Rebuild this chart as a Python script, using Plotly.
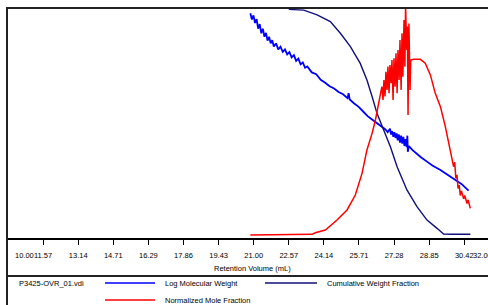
import plotly.graph_objects as go

# ---- data (retention volume in mL, detector responses in % of full scale) ----
tick_vals = [11.571, 13.143, 14.714, 16.286, 17.857, 19.429, 21.0, 22.571,
             24.143, 25.714, 27.286, 28.857, 30.429]
tick_text = ["11.57", "13.14", "14.71", "16.29", "17.86", "19.43", "21.00", "22.57",
             "24.14", "25.71", "27.28", "28.85", "30.42"]

logmw_x = [20.85, 20.92, 20.99, 21.06, 21.13, 21.20, 21.27, 21.34, 21.41, 21.48, 21.55,
           21.62, 21.69, 21.76, 21.83, 21.90, 22.0, 22.1, 22.2, 22.3, 22.4, 22.5, 22.6,
           22.7, 22.8, 22.9, 23.0, 23.1, 23.2, 23.3, 23.4, 23.6, 23.8, 24.0, 24.2, 24.4,
           24.6, 24.8, 25.0, 25.2, 25.25, 25.3, 25.5, 25.7, 25.9, 26.1, 26.3, 26.5, 26.7,
           26.9, 27.0, 27.1, 27.15, 27.2, 27.25, 27.3, 27.35, 27.4, 27.45, 27.5, 27.55,
           27.6, 27.65, 27.7, 27.75, 27.8, 27.85, 27.88, 27.9, 27.95, 28.1, 28.3, 28.5,
           28.76, 29.0, 29.36, 29.7, 29.95, 30.3, 30.62]
logmw_y = [97.7, 95.0, 96.8, 93.5, 95.2, 91.0, 93.0, 89.0, 91.0, 87.5, 89.2,
           85.8, 87.5, 84.6, 86.0, 83.3, 84.6, 82.0, 83.2, 80.9, 82.0, 79.8, 80.8,
           78.5, 79.5, 77.0, 78.0, 75.5, 76.3, 74.0, 74.6, 72.0, 71.2, 68.8, 67.5, 66.0,
           65.0, 63.5, 62.5, 60.8, 63.0, 60.2, 58.5, 57.0, 55.0, 53.0, 51.5, 50.0, 48.5,
           47.2, 46.0, 47.5, 45.0, 46.5, 44.0, 46.0, 43.5, 45.5, 42.5, 45.0, 41.5,
           44.5, 41.0, 44.0, 40.0, 43.0, 39.5, 44.5, 37.5, 40.0, 38.3, 36.5, 35.0,
           33.2, 31.5, 29.6, 27.5, 26.0, 23.5, 20.6]

cum_x = [22.57, 23.24, 23.84, 24.43, 24.88, 25.33, 25.77, 26.07, 26.30, 26.52, 26.82,
         27.12, 27.42, 27.86, 28.31, 28.76, 29.21, 29.36, 29.50, 29.88, 30.70]
cum_y = [99.4, 99.1, 97.0, 94.1, 89.0, 83.2, 75.9, 68.7, 61.5, 54.2, 47.0,
         39.7, 31.0, 20.9, 13.6, 7.8, 4.2, 3.0, 1.7, 1.6, 1.6]

mole_x = [20.85, 23.61, 23.76, 24.21, 24.73, 25.18, 25.55, 25.85, 26.07, 26.30, 26.45,
          26.60, 26.74, 26.79, 26.83, 26.88, 26.92, 26.97, 27.01, 27.06, 27.10, 27.15,
          27.19, 27.24, 27.28, 27.33, 27.37, 27.42, 27.46, 27.51, 27.55, 27.60, 27.64,
          27.68, 27.73, 27.77, 27.80, 27.85, 27.88, 27.91, 27.95, 28.00, 28.03, 28.16,
          28.46, 28.68, 28.91, 29.13, 29.36, 29.58, 29.80, 29.95, 30.00, 30.05, 30.10,
          30.15, 30.20, 30.25, 30.30, 30.40, 30.45, 30.55, 30.60, 30.70]
mole_y = [1.3, 1.6, 2.3, 3.5, 7.8, 12.2, 18.7, 28.1, 38.3, 45.5, 51.3,
          58.6, 65.8, 60.0, 68.7, 61.5, 72.3, 64.4, 74.5, 62.9, 75.2, 67.3,
          77.4, 60.0, 78.1, 65.8, 80.3, 62.9, 81.7, 68.7, 86.1, 64.4, 89.0,
          70.1, 94.8, 74.5, 101.0, 81.7, 91.9, 53.5, 93.3, 64.4, 77.4, 77.7,
          77.7, 76.0, 70.9, 62.9, 57.1, 48.4, 38.3, 31.0, 33.0, 26.0, 27.5,
          21.5, 23.0, 18.5, 20.5, 17.0, 18.5, 15.0, 16.5, 12.9]

series_names = ["Log Molecular Weight", "Cumulative Weight Fraction", "Normalized Mole Fraction"]
series_colors = ["#0000FF", "#10107A", "#FF0000"]
file_label = "P3425-OVR_01.vdi"
x_title = "Retention Volume (mL)"

FONT = "Liberation Sans, Arial, sans-serif"

fig = go.Figure()
fig.add_trace(go.Scatter(x=logmw_x, y=logmw_y, mode="lines", name=series_names[0],
                         line=dict(color=series_colors[0], width=1.8)))
fig.add_trace(go.Scatter(x=cum_x, y=cum_y, mode="lines", name=series_names[1],
                         line=dict(color=series_colors[1], width=1.4)))
fig.add_trace(go.Scatter(x=mole_x, y=mole_y, mode="lines", name=series_names[2],
                         line=dict(color=series_colors[2], width=1.5)))

W, H = 488, 305
ML, MR, MT, MB = 8, 0, 8, 67
pw, ph = W - ML - MR, H - MT - MB


def px(xp):
    return (xp - ML) / pw


def py(yp):
    return (H - MB - yp) / ph


shapes = []
# frame: left line (full height), top line, separator line
shapes.append(dict(type="line", xref="paper", yref="paper", x0=px(7), x1=px(7),
                   y0=py(7), y1=py(H + 2), line=dict(color="#222", width=2)))
shapes.append(dict(type="line", xref="paper", yref="paper", x0=px(6), x1=px(W + 2),
                   y0=py(8), y1=py(8), line=dict(color="#222", width=2)))
shapes.append(dict(type="line", xref="paper", yref="paper", x0=px(6), x1=px(W + 2),
                   y0=py(276), y1=py(276), line=dict(color="#222", width=2)))
# legend line samples
leg = [(105, 155, 283, 0), (265, 317, 283, 1), (105, 155, 300, 2)]
for x0, x1, yy, i in leg:
    shapes.append(dict(type="line", xref="paper", yref="paper", x0=px(x0), x1=px(x1),
                       y0=py(yy), y1=py(yy), line=dict(color=series_colors[i], width=1.6)))

annotations = []
txt = dict(xref="paper", yref="paper", showarrow=False, xanchor="left", yanchor="middle",
           font=dict(family=FONT, size=7.5, color="#000"))
annotations.append(dict(text=file_label, x=px(17), y=py(283), **txt))
annotations.append(dict(text=series_names[0], x=px(163), y=py(283), **txt))
annotations.append(dict(text=series_names[1], x=px(325), y=py(283), **txt))
annotations.append(dict(text=series_names[2], x=px(163), y=py(300), **txt))
annotations.append(dict(text=x_title, x=px(252), y=py(268),
                        **{**txt, "xanchor": "center"}))
annotations.append(dict(text="10.00", x=px(13), y=py(255), **txt))
annotations.append(dict(text="32.00", x=px(471), y=py(255), **txt))

fig.update_layout(
    width=W, height=H,
    margin=dict(l=ML, r=MR, t=MT, b=MB, pad=0),
    paper_bgcolor="white", plot_bgcolor="white",
    showlegend=False,
    font=dict(family=FONT, size=7.5, color="#000"),
    xaxis=dict(range=[10, 31.49], tickmode="array", tickvals=tick_vals, ticktext=tick_text,
               ticks="outside", ticklen=5, tickcolor="#000", tickwidth=1,
               showgrid=False, zeroline=False, showline=True, linecolor="#000",
               linewidth=1.5, tickfont=dict(family=FONT, size=7.5, color="#000"),
               ticklabelstandoff=4, automargin=False),
    yaxis=dict(range=[0, 100], visible=False, showgrid=False, zeroline=False),
    shapes=shapes, annotations=annotations,
)

fig.write_html("out.html", config={"displayModeBar": False},
               post_script="document.body.style.margin='0px';document.body.style.overflow='hidden';")
